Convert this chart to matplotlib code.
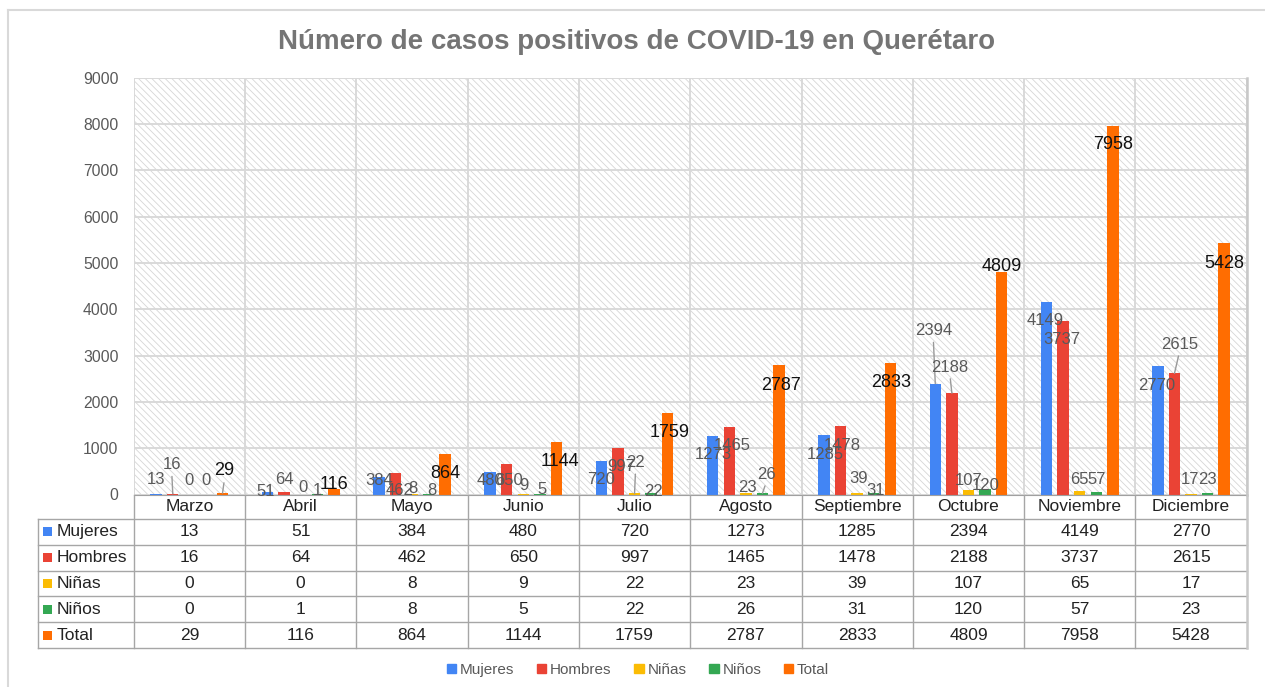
import matplotlib
matplotlib.use('Agg')
import matplotlib.pyplot as plt
from matplotlib.patches import Rectangle, Patch
from matplotlib.lines import Line2D
import numpy as np

plt.rcParams['font.family'] = ['Liberation Sans', 'DejaVu Sans']

MONTHS = ['Marzo', 'Abril', 'Mayo', 'Junio', 'Julio', 'Agosto',
          'Septiembre', 'Octubre', 'Noviembre', 'Diciembre']
SERIES = ['Mujeres', 'Hombres', 'Niñas', 'Niños', 'Total']
MUJERES = [13, 51, 384, 480, 720, 1273, 1285, 2394, 4149, 2770]
HOMBRES = [16, 64, 462, 650, 997, 1465, 1478, 2188, 3737, 2615]
NINAS = [0, 0, 8, 9, 22, 23, 39, 107, 65, 17]
NINOS = [0, 1, 8, 5, 22, 26, 31, 120, 57, 23]
TOTAL = [29, 116, 864, 1144, 1759, 2787, 2833, 4809, 7958, 5428]
YTICKS = list(range(0, 9001, 1000))

COLORS = ['#4285F4', '#EA4335', '#FBBC04', '#34A853', '#FF6D01']

# label nudges in pixels (dx, dy) from top of each bar, like the sheet placed them
NUDGE = [
    [(0, 14), (-2, 1), (0, -4), (0, -8), (0, -18), (1, -19), (1, -20), (-2, 53), (-1, -18), (-1, -19)],
    [(-1, 29), (0, 12), (4, -17), (2, -16), (3, -18), (3, -19), (2, -19), (-2, 26), (-1, -18), (5, 29)],
    [(0, 14), (2, 7), (1, 6), (1, 9), (1, 31), (2, 6), (1, 14), (0, 9), (0, 12), (-1, 14)],
    [(0, 14), (0, 4), (3, 4), (2, 5), (2, 2), (4, 19), (2, 3), (1, 3), (0, 12), (0, 14)],
    [(2, 23), (0, 5), (0, -19), (4, -20), (2, -19), (2, -20), (1, -19), (0, 5), (0, -19), (0, -20)],
]
LEADERS = [(1, 0), (4, 0), (2, 4), (3, 5), (0, 7), (1, 7), (1, 9)]  # (series, month)

W, H = 1265, 687
fig = plt.figure(figsize=(W / 100, H / 100), dpi=100)

# outer frame
fig.add_artist(Line2D([8 / W, 1], [1 - 10 / H, 1 - 10 / H], color='#d9d9d9', lw=1.5))
fig.add_artist(Line2D([8 / W, 8 / W], [0, 1 - 10 / H], color='#d9d9d9', lw=1.5))

fig.text(637 / W, 1 - 42 / H, 'Número de casos positivos de COVID-19 en Querétaro',
         ha='center', va='center', fontsize=20, fontweight='bold', color='#757575')

left, right, top, bottom = 133.7, 1246.7, 77.7, 494.5
ax = fig.add_axes([left / W, 1 - bottom / H, (right - left) / W, (bottom - top) / H])
ax.set_xlim(-0.5, 9.5)
ax.set_ylim(0, 9000)

plt.rcParams['hatch.linewidth'] = 0.6
ax.add_patch(Rectangle((0, 0), 1, 1, transform=ax.transAxes, facecolor='white',
                       edgecolor='#d6d6d6', hatch='\\\\\\\\\\', lw=0, zorder=0))
ax.set_yticks(YTICKS)
ax.yaxis.grid(True, color='#d9d9d9', lw=1.4, zorder=1)
ax.set_axisbelow(True)
for b in np.arange(-0.5, 10, 1):
    ax.axvline(b, color='#d9d9d9', lw=1.4, zorder=1)
ax.set_xticks([])
ax.tick_params(axis='y', length=0, pad=11, labelsize=11.3, labelcolor='#595959')
for s in ['top', 'left']:
    ax.spines[s].set_visible(False)
ax.spines['bottom'].set_color('#a0a0a0')
ax.spines['right'].set_color('#c8c8c8')
ax.spines['right'].set_linewidth(1.8)

data = [MUJERES, HOMBRES, NINAS, NINOS, TOTAL]
ind = np.arange(len(MONTHS))
step = 0.149
width = 0.103
for k, vals in enumerate(data):
    xs = ind + (k - 2) * step
    ax.bar(xs, vals, width, color=COLORS[k], zorder=2)
    for j, v in enumerate(vals):
        dx, dy = NUDGE[k][j]
        kw = dict(fontsize=13, color='#111111') if k == 4 else dict(fontsize=12, color='#595959')
        arrow = None
        if (k, j) in LEADERS:
            arrow = dict(arrowstyle='-', color='#9a9a9a', lw=1, relpos=(0.5, 0),
                         shrinkA=1, shrinkB=0)
        ax.annotate(str(v), xy=(xs[j], v), xytext=(dx, dy), textcoords='offset pixels',
                    ha='center', va='center', zorder=4, annotation_clip=False,
                    arrowprops=arrow, **kw)

# data table under the chart
tleft, tbottom = 38.3, 648.0
colw = (right - left) / 10
tab = fig.add_axes([tleft / W, 1 - tbottom / H, (right - tleft) / W, (tbottom - bottom) / H])
x0 = -0.5 - (left - tleft) / colw
tab.set_xlim(x0, 9.5)
tab.set_ylim(tbottom - bottom, 0)
tab.axis('off')
head_h = 24.5
row_h = (tbottom - bottom - head_h) / 5
lc = '#a6a6a6'
for r in range(6):
    y = head_h + r * row_h
    tab.plot([x0, 9.5], [y, y], color=lc, lw=1, clip_on=False)
tab.plot([x0, x0], [head_h, tbottom - bottom], color=lc, lw=1, clip_on=False)
for b in np.arange(-0.5, 9.6, 1):
    c, lw = (('#c8c8c8', 1.8) if b == 9.5 else (lc, 1))
    tab.plot([b, b], [0, tbottom - bottom], color=c, lw=lw, clip_on=False)
for j, m in enumerate(MONTHS):
    tab.text(j, head_h / 2, m, ha='center', va='center', fontsize=12.5, color='#222222')
for k, vals in enumerate(data):
    yc = head_h + (k + 0.5) * row_h
    tab.add_patch(Rectangle((x0 + 5 / colw, yc - 4.5), 9 / colw, 9, color=COLORS[k], lw=0))
    tab.text(x0 + 18 / colw, yc, SERIES[k], ha='left', va='center', fontsize=12.5, color='#222222')
    for j, v in enumerate(vals):
        tab.text(j, yc, str(v), ha='center', va='center', fontsize=12.5, color='#222222')

handles = [Patch(color=c) for c in COLORS]
fig.legend(handles, SERIES, loc='center', bbox_to_anchor=(638 / W, 1 - 670 / H), ncol=5,
           frameon=False, handlelength=0.6, handleheight=0.6, handletextpad=0.25,
           columnspacing=1.5, fontsize=11, labelcolor='#595959')

fig.savefig('out.png', dpi=100)
